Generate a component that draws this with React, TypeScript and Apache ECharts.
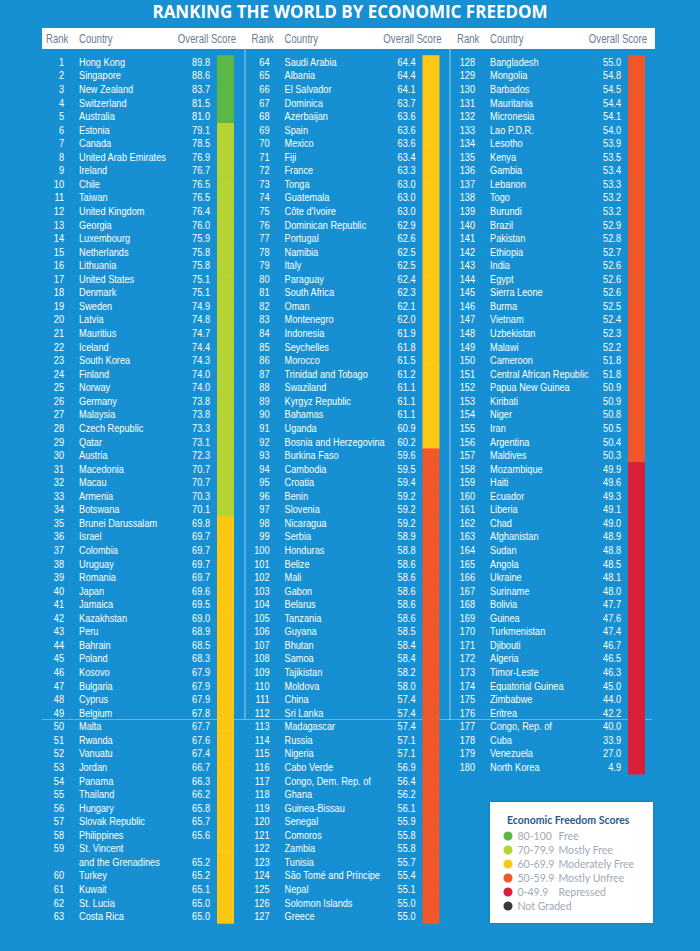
import React, { useEffect, useRef } from "react";
import * as echarts from "echarts";

const title = "RANKING THE WORLD BY ECONOMIC FREEDOM";
const headerLabels = ["Rank", "Country", "Overall Score"];
const legendTitle = "Economic Freedom Scores";

const countries = [
  "Hong Kong", "Singapore", "New Zealand", "Switzerland", "Australia", "Estonia", "Canada",
  "United Arab Emirates", "Ireland", "Chile", "Taiwan", "United Kingdom", "Georgia", "Luxembourg",
  "Netherlands", "Lithuania", "United States", "Denmark", "Sweden", "Latvia", "Mauritius", "Iceland",
  "South Korea", "Finland", "Norway", "Germany", "Malaysia", "Czech Republic", "Qatar", "Austria",
  "Macedonia", "Macau", "Armenia", "Botswana", "Brunei Darussalam", "Israel", "Colombia", "Uruguay",
  "Romania", "Japan", "Jamaica", "Kazakhstan", "Peru", "Bahrain", "Poland", "Kosovo", "Bulgaria",
  "Cyprus", "Belgium", "Malta", "Rwanda", "Vanuatu", "Jordan", "Panama", "Thailand", "Hungary",
  "Slovak Republic", "Philippines", "St. Vincent\nand the Grenadines", "Turkey", "Kuwait", "St. Lucia",
  "Costa Rica",
  "Saudi Arabia", "Albania", "El Salvador", "Dominica", "Azerbaijan", "Spain", "Mexico", "Fiji",
  "France", "Tonga", "Guatemala", "Côte d'Ivoire", "Dominican Republic", "Portugal", "Namibia", "Italy",
  "Paraguay", "South Africa", "Oman", "Montenegro", "Indonesia", "Seychelles", "Morocco",
  "Trinidad and Tobago", "Swaziland", "Kyrgyz Republic", "Bahamas", "Uganda", "Bosnia and Herzegovina",
  "Burkina Faso", "Cambodia", "Croatia", "Benin", "Slovenia", "Nicaragua", "Serbia", "Honduras",
  "Belize", "Mali", "Gabon", "Belarus", "Tanzania", "Guyana", "Bhutan", "Samoa", "Tajikistan",
  "Moldova", "China", "Sri Lanka", "Madagascar", "Russia", "Nigeria", "Cabo Verde",
  "Congo, Dem. Rep. of", "Ghana", "Guinea-Bissau", "Senegal", "Comoros", "Zambia", "Tunisia",
  "São Tomé and Príncipe", "Nepal", "Solomon Islands", "Greece",
  "Bangladesh", "Mongolia", "Barbados", "Mauritania", "Micronesia", "Lao P.D.R.", "Lesotho", "Kenya",
  "Gambia", "Lebanon", "Togo", "Burundi", "Brazil", "Pakistan", "Ethiopia", "India", "Egypt",
  "Sierra Leone", "Burma", "Vietnam", "Uzbekistan", "Malawi", "Cameroon", "Central African Republic",
  "Papua New Guinea", "Kiribati", "Niger", "Iran", "Argentina", "Maldives", "Mozambique", "Haiti",
  "Ecuador", "Liberia", "Chad", "Afghanistan", "Sudan", "Angola", "Ukraine", "Suriname", "Bolivia",
  "Guinea", "Turkmenistan", "Djibouti", "Algeria", "Timor-Leste", "Equatorial Guinea", "Zimbabwe",
  "Eritrea", "Congo, Rep. of", "Cuba", "Venezuela", "North Korea",
];

const scores = [
  89.8, 88.6, 83.7, 81.5, 81.0, 79.1, 78.5, 76.9, 76.7, 76.5, 76.5, 76.4, 76.0, 75.9, 75.8, 75.8,
  75.1, 75.1, 74.9, 74.8, 74.7, 74.4, 74.3, 74.0, 74.0, 73.8, 73.8, 73.3, 73.1, 72.3, 70.7, 70.7,
  70.3, 70.1, 69.8, 69.7, 69.7, 69.7, 69.7, 69.6, 69.5, 69.0, 68.9, 68.5, 68.3, 67.9, 67.9, 67.9,
  67.8, 67.7, 67.6, 67.4, 66.7, 66.3, 66.2, 65.8, 65.7, 65.6, 65.2, 65.2, 65.1, 65.0, 65.0,
  64.4, 64.4, 64.1, 63.7, 63.6, 63.6, 63.6, 63.4, 63.3, 63.0, 63.0, 63.0, 62.9, 62.6, 62.5, 62.5,
  62.4, 62.3, 62.1, 62.0, 61.9, 61.8, 61.5, 61.2, 61.1, 61.1, 61.1, 60.9, 60.2, 59.6, 59.5, 59.4,
  59.2, 59.2, 59.2, 58.9, 58.8, 58.6, 58.6, 58.6, 58.6, 58.6, 58.5, 58.4, 58.4, 58.2, 58.0, 57.4,
  57.4, 57.4, 57.1, 57.1, 56.9, 56.4, 56.2, 56.1, 55.9, 55.8, 55.8, 55.7, 55.4, 55.1, 55.0, 55.0,
  55.0, 54.8, 54.5, 54.4, 54.1, 54.0, 53.9, 53.5, 53.4, 53.3, 53.2, 53.2, 52.9, 52.8, 52.7, 52.6,
  52.6, 52.6, 52.5, 52.4, 52.3, 52.2, 51.8, 51.8, 50.9, 50.9, 50.8, 50.5, 50.4, 50.3, 49.9, 49.6,
  49.3, 49.1, 49.0, 48.9, 48.8, 48.5, 48.1, 48.0, 47.7, 47.6, 47.4, 46.7, 46.5, 46.3, 45.0, 44.0,
  42.2, 40.0, 33.9, 27.0, 4.9,
];

const columnFirstRanks = [1, 64, 128];

const bandNames = ["80-100", "70-79.9", "60-69.9", "50-59.9", "0-49.9", "Not Graded"];
const bandLabels = ["Free", "Mostly Free", "Moderately Free", "Mostly Unfree", "Repressed", ""];
const bandFloors = [80, 70, 60, 50, 0, -Infinity];
const bandColors = ["#5bb848", "#b5d334", "#fcc813", "#f0582a", "#da1f3b", "#3a3a3a"];

const SLOTS = 64;
const BG = "#1690d2";
const TABLE_FONT = '"Liberation Sans", Arial, sans-serif';
const SQUEEZE = 0.8;

type Row = { col: number; slot: number; rank: number; lines: string[]; score: number; band: number };

function buildRows(): Row[] {
  const rows: Row[] = [];
  const next = [0, 0, 0];
  countries.forEach((name, i) => {
    const rank = i + 1;
    let col = 0;
    columnFirstRanks.forEach((r, c) => {
      if (rank >= r) col = c;
    });
    const lines = name.split("\n");
    const score = scores[i];
    const band = bandFloors.findIndex((f) => score >= f);
    rows.push({ col, slot: next[col], rank, lines, score, band });
    next[col] += lines.length;
  });
  return rows;
}

function squeezedText(x: number, y: number, text: string, align: string, extra: any = {}) {
  return {
    type: "text",
    x,
    y,
    scaleX: SQUEEZE,
    style: {
      text,
      x: 0,
      y: 0,
      align,
      verticalAlign: "middle",
      fill: "#ffffff",
      fontSize: 11.5,
      fontFamily: TABLE_FONT,
      ...extra,
    },
  };
}

export default function App() {
  const ref = useRef<HTMLDivElement>(null);
  useEffect(() => {
    if (!ref.current) return;
    const chart = echarts.init(ref.current, undefined, { renderer: "svg" });
    const rows = buildRows();

    const textSeries: any = {
      type: "custom",
      name: "rows",
      coordinateSystem: "cartesian2d",
      silent: true,
      z: 5,
      encode: { x: 0, y: 1 },
      data: rows.map((r) => [r.col, r.slot]),
      renderItem: (params: any, api: any) => {
        const r = rows[params.dataIndex];
        const p = api.coord([r.col, r.slot]);
        const rowH = api.size([0, 1])[1];
        const children: any[] = [];
        children.push(squeezedText(p[0] + 22, p[1], String(r.rank), "right"));
        r.lines.forEach((line, k) => {
          children.push(squeezedText(p[0] + 37, p[1] + k * rowH, line, "left"));
        });
        children.push(
          squeezedText(p[0] + 168, p[1] + (r.lines.length - 1) * rowH, r.score.toFixed(1), "right")
        );
        return { type: "group", children };
      },
    };

    const bandSeries = bandNames.map((name, b) => {
      const data: number[][] = [];
      rows.forEach((r) => {
        if (r.band !== b) return;
        r.lines.forEach((_, k) => data.push([r.col, r.slot + k, r.score]));
      });
      return {
        type: "custom",
        name,
        coordinateSystem: "cartesian2d",
        silent: true,
        z: 4,
        itemStyle: { color: bandColors[b] },
        encode: { x: 0, y: 1 },
        data,
        renderItem: (params: any, api: any) => {
          const p = api.coord([api.value(0), api.value(1)]);
          const rowH = api.size([0, 1])[1];
          return {
            type: "rect",
            shape: { x: p[0] + 175, y: p[1] - rowH / 2, width: 17, height: rowH + 0.6 },
            style: { fill: api.visual("color") },
          };
        },
      };
    });

    const colW = 205.5;
    const gridLeft = 42;
    const headerTexts: any[] = [];
    const headStyle = { fill: "#6b7d91", fontSize: 12 };
    [0, 1, 2].forEach((c) => {
      const x0 = gridLeft + c * colW;
      headerTexts.push(
        squeezedText(x0 + 4, 38.5, headerLabels[0], "left", headStyle),
        squeezedText(x0 + 37, 38.5, headerLabels[1], "left", headStyle),
        squeezedText(x0 + 194, 38.5, headerLabels[2], "right", headStyle)
      );
    });

    const option: any = {
      animation: false,
      backgroundColor: BG,
      grid: { left: gridLeft, top: 55.2, width: colW * 3, height: 13.56 * SLOTS },
      xAxis: { type: "value", min: 0, max: 3, show: false },
      yAxis: {
        type: "category",
        inverse: true,
        show: false,
        data: Array.from({ length: SLOTS }, (_, i) => String(i)),
      },
      legend: {
        orient: "vertical",
        left: 503.5,
        top: 830.5,
        padding: 0,
        selectedMode: false,
        itemWidth: 9,
        itemHeight: 9,
        itemGap: 3,
        icon: "circle",
        data: bandNames.map((n, b) => ({ name: n, itemStyle: { color: bandColors[b] } })),
        formatter: (name: string) => {
          const b = bandNames.indexOf(name);
          return bandLabels[b] ? `{r|${name}}{d|${bandLabels[b]}}` : `{r|${name}}`;
        },
        textStyle: {
          color: "#a0aab6",
          fontSize: 10.5,
          fontFamily: "Lato, sans-serif",
          rich: {
            r: { width: 41, color: "#a0aab6", fontSize: 10.5, fontFamily: "Lato, sans-serif" },
            d: { color: "#a0aab6", fontSize: 10.5, fontFamily: "Lato, sans-serif" },
          },
        },
      },
      graphic: [
        { type: "text", x: 350, y: 11, style: { text: title, fill: "#ffffff", fontSize: 17, fontWeight: "bold", fontFamily: '"Open Sans", sans-serif', align: "center", verticalAlign: "middle" } },
        { type: "rect", shape: { x: 42, y: 28, width: 613, height: 21 }, style: { fill: "#ffffff" } },
        ...headerTexts,
        { type: "line", shape: { x1: 245, y1: 49, x2: 245, y2: 719.5 }, style: { stroke: "rgba(255,255,255,0.55)", lineWidth: 1 } },
        { type: "line", shape: { x1: 450, y1: 49, x2: 450, y2: 719.5 }, style: { stroke: "rgba(255,255,255,0.55)", lineWidth: 1 } },
        { type: "line", shape: { x1: 42, y1: 719.5, x2: 652, y2: 719.5 }, style: { stroke: "rgba(255,255,255,0.35)", lineWidth: 1 } },
        { type: "rect", shape: { x: 490, y: 802, width: 163, height: 121 }, style: { fill: "#ffffff", shadowBlur: 3, shadowColor: "rgba(0,0,0,0.2)" } },
        { type: "text", x: 507, y: 820, style: { text: legendTitle, fill: "#2a5a88", fontSize: 10.5, fontWeight: "bold", fontFamily: "Lato, sans-serif", align: "left", verticalAlign: "middle" } },
      ],
      series: [...bandSeries, textSeries],
    };
    chart.setOption(option);
    return () => chart.dispose();
  }, []);
  return <div ref={ref} style={{ position: "fixed", left: 0, top: 0, width: 700, height: 951 }} />;
}
